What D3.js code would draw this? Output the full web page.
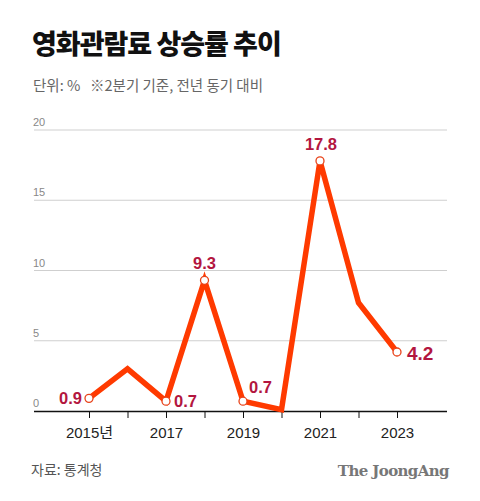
<!DOCTYPE html>
<html><head><meta charset="utf-8">
<script src="https://cdn.jsdelivr.net/npm/d3@7"></script>
<style>body{margin:0;background:#fff}svg{display:block}</style>
</head><body>
<script>
const years = [2015, 2016, 2017, 2018, 2019, 2020, 2021, 2022, 2023];
const values = [0.9, 3.0, 0.7, 9.3, 0.7, 0.1, 17.8, 7.7, 4.2];
const labeled = [2015, 2017, 2018, 2019, 2021, 2023];
const yTicks = [0, 5, 10, 15, 20];
const xTickYears = [2015, 2017, 2019, 2021, 2023];
const xTickLabels = ["2015년", "2017", "2019", "2021", "2023"];
const title = "영화관람료 상승률 추이";
const subtitle = "단위: %   ※2분기 기준, 전년 동기 대비";
const source = "자료: 통계청";
const brand = "The JoongAng";

const W = 480, H = 501;
const svg = d3.select("body").append("svg").attr("width", W).attr("height", H);
const font = "'Noto Sans CJK KR', 'Noto Sans', sans-serif";
const numFont = "'Liberation Sans', 'Noto Sans CJK KR', sans-serif";

const x = d3.scaleLinear().domain([2015, 2023]).range([89, 397]);
const y = d3.scaleLinear().domain([0, 20]).range([411, 130]);
const x0 = 34, x1 = 447;

svg.append("text").attr("x", 32).attr("y", 54).text(title)
  .attr("font-family", font).attr("font-weight", 900).attr("font-size", 27).attr("fill", "#111").attr("letter-spacing", -1);
svg.append("text").attr("x", 33).attr("y", 91).text(subtitle)
  .attr("font-family", font).attr("font-size", 14.5).attr("fill", "#666").attr("xml:space", "preserve").style("white-space", "pre");

// grid
const g = svg.append("g");
g.selectAll("line.grid").data(yTicks.filter(d => d > 0)).join("line")
  .attr("x1", x0).attr("x2", x1).attr("y1", d => y(d)).attr("y2", d => y(d))
  .attr("stroke", "#cfcfcf").attr("stroke-width", 1);
g.selectAll("text.yt").data(yTicks).join("text")
  .attr("x", 33).attr("y", d => y(d) - 4).text(d => d)
  .attr("font-family", numFont).attr("font-size", 11).attr("fill", "#888");

// x axis
const xAxis = d3.axisBottom(x).tickValues(years).tickSize(7).tickFormat(d => {
  const i = xTickYears.indexOf(d); return i >= 0 ? xTickLabels[i] : "";
});
const ax = svg.append("g").attr("transform", `translate(0,${y(0)})`).call(xAxis);
ax.select(".domain").attr("d", `M${x0},0.5H${x1}`).attr("stroke", "#111").attr("stroke-width", 1.5);
ax.selectAll(".tick line").attr("stroke", "#111").attr("stroke-width", 1);
ax.selectAll(".tick text").attr("font-family", numFont).attr("font-size", 15).attr("fill", "#222").attr("dy", "1.15em");

// line
const data = years.map((yr, i) => ({yr, v: values[i]}));
svg.append("path").datum(data)
  .attr("d", d3.line().x(d => x(d.yr)).y(d => y(d.v)))
  .attr("fill", "none").attr("stroke", "#ff3a00").attr("stroke-width", 5.5)
  .attr("stroke-linejoin", "miter");

const lab = data.filter(d => labeled.includes(d.yr));
svg.selectAll("circle.m").data(lab).join("circle")
  .attr("cx", d => x(d.yr)).attr("cy", d => y(d.v)).attr("r", 4)
  .attr("fill", "#fff").attr("stroke", "#e8431a").attr("stroke-width", 1.3);

const pos = {
  2015: {dx: -7, dy: 6, anchor: "end", size: 16.5},
  2017: {dx: 8, dy: 6, anchor: "start", size: 16.5},
  2018: {dx: 0, dy: -11, anchor: "middle", size: 16.5},
  2019: {dx: 6, dy: -8, anchor: "start", size: 16.5},
  2021: {dx: 1, dy: -11, anchor: "middle", size: 16.5},
  2023: {dx: 10, dy: 8, anchor: "start", size: 19}
};
svg.selectAll("text.vl").data(lab).join("text")
  .attr("x", d => x(d.yr) + pos[d.yr].dx).attr("y", d => y(d.v) + pos[d.yr].dy)
  .attr("text-anchor", d => pos[d.yr].anchor).text(d => d.v.toFixed(1))
  .attr("font-family", "'Liberation Sans', Arial, sans-serif").attr("font-weight", 700)
  .attr("font-size", d => pos[d.yr].size).attr("fill", "#b3163f");

svg.append("text").attr("x", 31).attr("y", 475).text(source)
  .attr("font-family", font).attr("font-size", 14).attr("fill", "#555");
svg.append("text").attr("x", 449).attr("y", 476).attr("text-anchor", "end").text(brand)
  .attr("font-family", "'DejaVu Serif', 'Liberation Serif', serif").attr("font-weight", 700)
  .attr("font-size", 15).attr("fill", "#777").attr("letter-spacing", -0.6);
</script>
</body></html>
